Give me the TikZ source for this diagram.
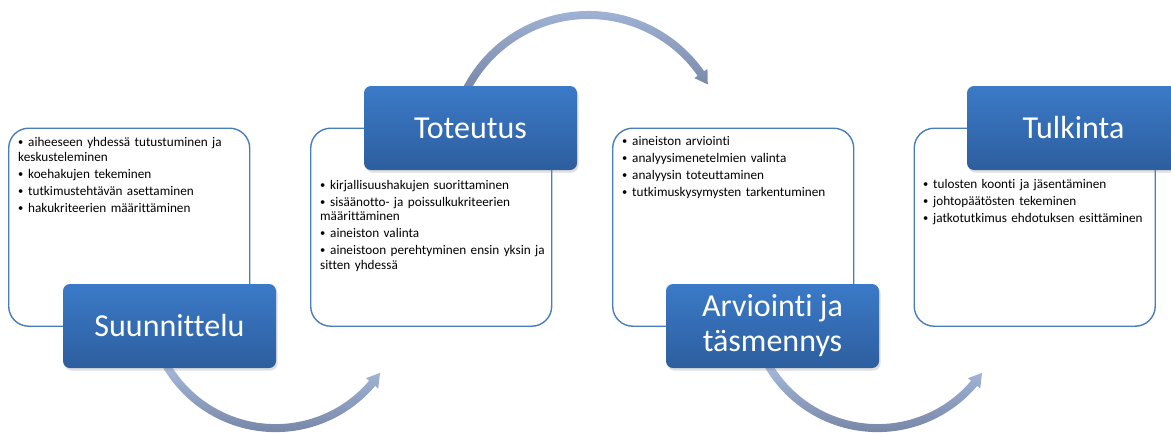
\documentclass[tikz,border=0pt]{standalone}
\usepackage{fontspec}
\setmainfont{Carlito}[Ligatures=NoCommon]
\usetikzlibrary{shadows}
\definecolor{bluetop}{RGB}{59,122,200}
\definecolor{bluebot}{RGB}{45,94,158}
\definecolor{boxline}{RGB}{74,126,187}
\definecolor{arrlight}{RGB}{170,189,224}
\definecolor{arrdark}{RGB}{118,134,166}
\newcommand\bitem[1]{\hangindent=10pt\hangafter=1\noindent\makebox[10pt][l]{\raisebox{0.8pt}{\fontsize{10.5}{10.5}\selectfont\textbullet}}#1\par}
\begin{document}
\begin{tikzpicture}[x=1pt,y=-1pt,
  listbox/.style={draw=boxline, line width=1.4pt, rounded corners=20pt, fill=white,
    minimum width=241pt, minimum height=198pt, anchor=north west, inner sep=0pt},
  titlebox/.style={rounded corners=7pt, top color=bluetop, bottom color=bluebot, draw=none,
    text=white, font=\fontsize{32}{35}\selectfont, align=center, inner sep=0pt,
    minimum width=213pt, minimum height=84pt,
    drop shadow={shadow xshift=1.5pt, shadow yshift=-2.5pt, opacity=0.25}},
  itemtext/.style={anchor=base west, inner sep=0pt, text width=240pt,
    font=\fontsize{13.2}{14.5}\selectfont\setlength\parskip{2.5pt}, align=left},
  arrowfill/.style={top color=arrlight, bottom color=arrdark, draw=none}]
\useasboundingbox (0,0) rectangle (1171,432);
% curved arrows
\coordinate (c1) at (275.6,301.7);
\coordinate (c2) at (588.5,152.2);
\coordinate (c3) at (877.6,301.7);
\shade[arrowfill] ([shift={(c1)}]152:130.4) arc[start angle=152, end angle=40.2, radius=130.4]
  -- ([shift={(c1)}]40.2:134.4) -- ([shift={(c1)}]34.3:126.4) -- ([shift={(c1)}]40.2:118.4)
  -- ([shift={(c1)}]40.2:122.4) arc[start angle=40.2, end angle=152, radius=122.4] -- cycle;
\shade[arrowfill] ([shift={(c2)}]207:141.2) arc[start angle=207, end angle=325, radius=141.2]
  -- ([shift={(c2)}]325:145.2) -- ([shift={(c2)}]330.4:137.2) -- ([shift={(c2)}]325:129.2)
  -- ([shift={(c2)}]325:133.2) arc[start angle=325, end angle=207, radius=133.2] -- cycle;
\shade[arrowfill] ([shift={(c3)}]152:130.4) arc[start angle=152, end angle=40.2, radius=130.4]
  -- ([shift={(c3)}]40.2:134.4) -- ([shift={(c3)}]34.3:126.4) -- ([shift={(c3)}]40.2:118.4)
  -- ([shift={(c3)}]40.2:122.4) arc[start angle=40.2, end angle=152, radius=122.4] -- cycle;
% list boxes
\node[listbox] (b1) at (8,127.5) {};
\node[listbox] (b2) at (310,127.5) {};
\node[listbox] (b3) at (612,127.5) {};
\node[listbox] (b4) at (913.5,127.5) {};
% list texts
\node[itemtext] (l1) at (18,146.5) {\bitem{aiheeseen yhdessä tutustuminen ja\\keskusteleminen}\bitem{koehakujen tekeminen}\bitem{tutkimustehtävän asettaminen}\bitem{hakukriteerien määrittäminen}};
\node[itemtext] (l2) at (320,189) {\bitem{kirjallisuushakujen suorittaminen}\bitem{sisäänotto- ja poissulkukriteerien\\määrittäminen}\bitem{aineiston valinta}\bitem{aineistoon perehtyminen ensin yksin ja\\sitten yhdessä}};
\node[itemtext] (l3) at (622,145.5) {\bitem{aineiston arviointi}\bitem{analyysimenetelmien valinta}\bitem{analyysin toteuttaminen}\bitem{tutkimuskysymysten tarkentuminen}};
\node[itemtext] (l4) at (923,188.5) {\bitem{tulosten koonti ja jäsentäminen}\bitem{johtopäätösten tekeminen}\bitem{jatkotutkimus ehdotuksen esittäminen}};
% title boxes
\node[titlebox] (t1) at (169.5,326) {Suunnittelu};
\node[titlebox] (t2) at (470.5,128) {Toteutus};
\node[titlebox] (t3) at (772.5,326) {Arviointi ja\\täsmennys};
\node[titlebox] (t4) at (1073.5,128) {Tulkinta};
\end{tikzpicture}
\end{document}
